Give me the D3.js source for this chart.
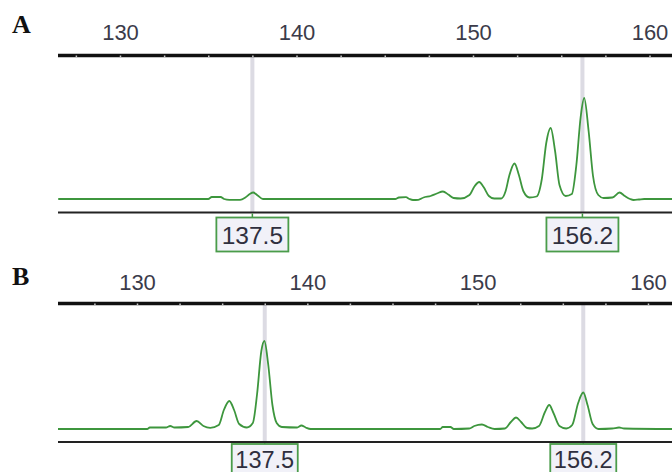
<!DOCTYPE html>
<html>
<head>
<meta charset="utf-8">
<script src="https://cdn.jsdelivr.net/npm/d3@7"></script>
<style>
  body { margin: 0; background: #fff; }
  svg { display: block; }
</style>
</head>
<body>
<div id="root"></div>
<script>
// size axis labels and minor ticks (bp)
const majorTicks = [130, 140, 150, 160];
const minorTicks = [127.5, 130, 132.5, 135, 137.5, 140, 142.5, 145, 147.5, 150, 152.5, 155, 157.5, 160];
// called allele sizes shown in the boxes
const markers = [137.5, 156.2];

// trace A: [size bp, signal]
const traceA = [
    [126.5, 0], [135.0, 0], [135.2, 20], [135.7, 20], [135.9, 0], [136.2, -8], [136.8, -8],
    [137.1, 15], [137.35, 50], [137.55, 65], [137.8, 35], [138.1, 0],
    [145.6, 0], [145.8, 15], [146.2, 18], [146.4, 0], [146.6, -10], [146.9, -8],
    [147.2, 15], [147.6, 30], [147.95, 55], [148.3, 75], [148.6, 45], [148.9, 10],
    [149.3, 5], [149.8, 40], [150.1, 130], [150.35, 170], [150.6, 120], [150.9, 30],
    [151.2, 5], [151.6, 5], [151.85, 80], [152.05, 230], [152.35, 355], [152.6, 240], [152.85, 80],
    [153.2, 15], [153.6, 25], [153.9, 200], [154.15, 560], [154.4, 710], [154.65, 480], [154.9, 140],
    [155.25, 30], [155.6, 50], [155.85, 330], [156.1, 820], [156.3, 1010], [156.55, 680], [156.8, 230],
    [157.1, 40], [157.4, 10], [157.9, 15], [158.3, 65], [158.6, 30], [158.9, 0],
    [159.1, -10], [159.4, -5], [159.7, 0], [161.5, 0]
];

// trace B: [size bp, signal]
const traceB = [
    [125.3, 0], [130.6, 0], [130.75, 15], [131.7, 15], [131.95, 30], [132.2, 15],
    [133.0, 20], [133.5, 80], [133.9, 30], [134.3, 12],
    [134.8, 40], [135.1, 190], [135.42, 280], [135.7, 190], [136.0, 50], [136.45, 15],
    [136.8, 60], [137.05, 350], [137.3, 780], [137.48, 880], [137.7, 650], [137.95, 240], [138.2, 60],
    [138.5, 20], [139.4, 15], [139.65, 35], [139.9, 15], [140.2, 0],
    [147.8, 0], [147.95, 20], [148.4, 20], [148.6, 0],
    [149.5, 5], [149.8, 30], [150.25, 45], [150.6, 20], [151.0, 0],
    [151.6, 5], [151.95, 70], [152.25, 115], [152.55, 70], [152.9, 10],
    [153.2, 5], [153.6, 30], [153.95, 170], [154.2, 240], [154.45, 160], [154.8, 30],
    [155.2, 5], [155.55, 40], [155.9, 260], [156.2, 365], [156.45, 240], [156.75, 50],
    [157.1, 0], [157.9, 5], [158.3, 15], [158.6, 5], [161.5, 0]
];

document.addEventListener("DOMContentLoaded", () => {
    const width = 672;
    const height = 472;
    const left = 58;

    const svg = d3.select("#root").append("svg")
        .attr("width", width)
        .attr("height", height);

    const panels = [
        { name: "A", trace: traceA, range: [120, 649.5], axisY: 55.5, labelY: 40, letterY: 33,
          base: 199, bottom: 212.5, boxY: 217.5, boxH: 34, boxW: 72, boxFont: 24.5, textDy: 26 },
        { name: "B", trace: traceB, range: [137, 648], axisY: 303.5, labelY: 290, letterY: 285,
          base: 429, bottom: 442, boxY: 444, boxH: 34, boxW: 66, boxFont: 23.5, textDy: 24 }
    ];

    svg.append("defs").append("clipPath")
        .attr("id", "plotclip")
        .append("rect")
        .attr("x", left).attr("y", 0)
        .attr("width", width - left).attr("height", height);

    panels.forEach(p => {
        const x = d3.scaleLinear().domain([130, 160]).range(p.range);
        const y = d3.scaleLinear().domain([0, 1000]).range([p.base, p.base - 100]);
        const g = svg.append("g").attr("class", "panel");

        g.append("text")
            .attr("x", 12)
            .attr("y", p.letterY)
            .text(p.name)
            .style("font-family", "'Liberation Serif', 'DejaVu Serif', serif")
            .style("font-weight", "bold")
            .style("font-size", "26px")
            .style("fill", "#111");

        // grey marker lines
        g.selectAll(".marker")
            .data(markers)
            .enter().append("line")
            .attr("class", "marker")
            .attr("x1", d => x(d)).attr("x2", d => x(d))
            .attr("y1", p.axisY).attr("y2", p.bottom)
            .attr("stroke", "#dcdbe3")
            .attr("stroke-width", 4);

        // top size axis
        const labels = g.append("g")
            .attr("transform", `translate(0,${p.axisY})`)
            .call(d3.axisTop(x).tickValues(majorTicks).tickSize(0).tickPadding(p.axisY - p.labelY));
        labels.select(".domain").remove();
        labels.selectAll("text")
            .style("font-family", "'Liberation Sans', Arial, sans-serif")
            .style("font-size", "22px")
            .style("fill", "#3b3b4a");

        g.append("line")
            .attr("x1", left).attr("x2", width)
            .attr("y1", p.axisY).attr("y2", p.axisY)
            .attr("stroke", "#111")
            .attr("stroke-width", 3.5);

        const minor = g.append("g")
            .attr("transform", `translate(0,${p.axisY})`)
            .call(d3.axisBottom(x).tickValues(minorTicks).tickSize(1.8).tickFormat(""));
        minor.select(".domain").remove();
        minor.selectAll("line").attr("stroke", "#c8c8c8").attr("stroke-width", 1.5);

        // bottom line
        g.append("line")
            .attr("x1", left).attr("x2", width)
            .attr("y1", p.bottom).attr("y2", p.bottom)
            .attr("stroke", "#222")
            .attr("stroke-width", 2);

        // trace
        const line = d3.line()
            .x(d => x(d[0]))
            .y(d => y(d[1]))
            .curve(d3.curveMonotoneX);

        g.append("path")
            .datum(p.trace)
            .attr("clip-path", "url(#plotclip)")
            .attr("d", line)
            .attr("fill", "none")
            .attr("stroke", "#3d963d")
            .attr("stroke-width", 1.8)
            .attr("stroke-linejoin", "round");

        // allele call boxes
        const box = g.selectAll(".call")
            .data(markers)
            .enter().append("g")
            .attr("class", "call");

        box.append("line")
            .attr("x1", d => x(d)).attr("x2", d => x(d))
            .attr("y1", p.bottom + 1).attr("y2", p.boxY)
            .attr("stroke", "#3d963d")
            .attr("stroke-width", 1.5);

        box.append("rect")
            .attr("x", d => x(d) - p.boxW / 2)
            .attr("y", p.boxY)
            .attr("width", p.boxW)
            .attr("height", p.boxH)
            .attr("fill", "#f1f1f8")
            .attr("stroke", "#4a9c4a")
            .attr("stroke-width", 1.8);

        box.append("text")
            .attr("x", d => x(d))
            .attr("y", p.boxY + p.textDy)
            .attr("text-anchor", "middle")
            .text(d => d.toFixed(1))
            .style("font-family", "'Liberation Sans', Arial, sans-serif")
            .style("font-size", p.boxFont + "px")
            .style("fill", "#2f2f3e");
    });
});
</script>
</body>
</html>
